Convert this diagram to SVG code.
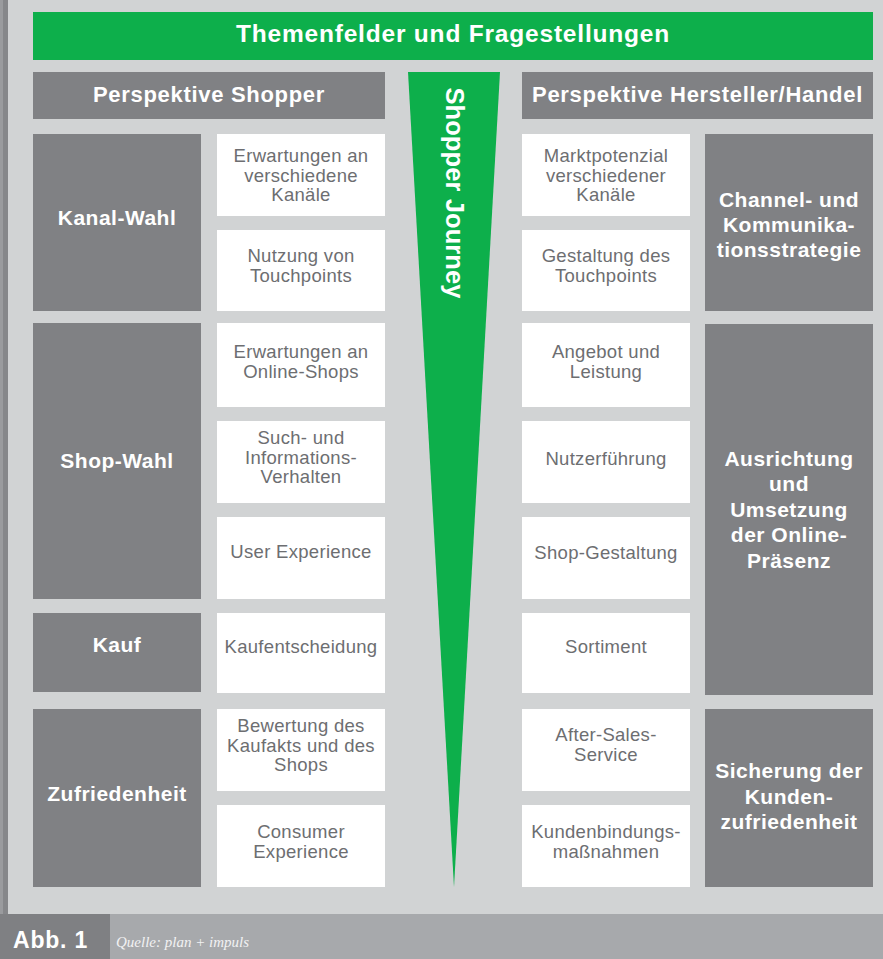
<svg xmlns="http://www.w3.org/2000/svg" width="883" height="959" viewBox="0 0 883 959">
  <defs>
    <style>
      .bg { fill: #d1d3d4; }
      .dark { fill: #808184; }
      .card { fill: #ffffff; }
      .green { fill: #0daf4b; }
      .title { font-family: "Liberation Sans", Arial, sans-serif; font-weight: bold; fill: #ffffff; text-anchor: middle; }
      .h1 { font-size: 24.5px; letter-spacing: 0.8px; }
      .h2 { font-size: 22px; letter-spacing: 0.7px; }
      .lbl { font-family: "Liberation Sans", Arial, sans-serif; font-weight: bold; font-size: 21px; letter-spacing: 0.5px; fill: #ffffff; text-anchor: middle; }
      .txt { font-family: "Liberation Sans", Arial, sans-serif; font-size: 18.5px; letter-spacing: 0.3px; fill: #6d6e71; text-anchor: middle; }
      .journey { font-family: "Liberation Sans", Arial, sans-serif; font-weight: bold; font-size: 25.5px; letter-spacing: 0.1px; fill: #ffffff; text-anchor: middle; }
      .abb { font-family: "Liberation Sans", Arial, sans-serif; font-weight: bold; font-size: 23px; letter-spacing: 0.8px; fill: #ffffff; }
      .src { font-family: "Liberation Serif", "Times New Roman", serif; font-style: italic; font-size: 15px; fill: #f2f2f3; }
    </style>
  </defs>

  <!-- page background and frame -->
  <rect class="bg" x="0" y="0" width="883" height="914"/>
  <rect x="0" y="0" width="3" height="914" fill="#9a9b9e"/>
  <rect x="3" y="0" width="5" height="914" fill="#86878a"/>

  <!-- title bar -->
  <g id="title">
    <rect class="green" x="33" y="12" width="840" height="48"/>
    <text class="title h1" x="453" y="41.5">Themenfelder und Fragestellungen</text>
  </g>

  <!-- column headers -->
  <g id="head-shopper">
    <rect class="dark" x="33" y="72" width="352" height="47"/>
    <text class="title h2" x="209" y="102">Perspektive Shopper</text>
  </g>
  <g id="head-hersteller">
    <rect class="dark" x="522" y="72" width="351" height="47"/>
    <text class="title h2" x="697.5" y="102">Perspektive Hersteller/Handel</text>
  </g>

  <!-- central wedge -->
  <g id="shopper-journey">
    <polygon class="green" points="408,72 500,72 454,887"/>
    <text class="journey" transform="translate(446,193) rotate(90)">Shopper Journey</text>
  </g>

  <!-- shopper phases (left) -->
  <g id="kanal-wahl">
    <rect class="dark" x="33" y="134" width="168" height="177"/>
    <text class="lbl" x="117" y="225">Kanal-Wahl</text>
  </g>
  <g id="shop-wahl">
    <rect class="dark" x="33" y="323" width="168" height="276"/>
    <text class="lbl" x="117" y="468">Shop-Wahl</text>
  </g>
  <g id="kauf">
    <rect class="dark" x="33" y="613" width="168" height="79"/>
    <text class="lbl" x="117" y="652">Kauf</text>
  </g>
  <g id="zufriedenheit">
    <rect class="dark" x="33" y="709" width="168" height="178"/>
    <text class="lbl" x="117" y="801">Zufriedenheit</text>
  </g>

  <!-- shopper topics -->
  <g id="s-erwartungen-kanaele">
    <rect class="card" x="217" y="134" width="168" height="82"/>
    <text class="txt" x="301" y="162">Erwartungen an</text>
    <text class="txt" x="301" y="181.5">verschiedene</text>
    <text class="txt" x="301" y="201">Kanäle</text>
  </g>
  <g id="s-nutzung-touchpoints">
    <rect class="card" x="217" y="230" width="168" height="81"/>
    <text class="txt" x="301" y="262">Nutzung von</text>
    <text class="txt" x="301" y="281.5">Touchpoints</text>
  </g>
  <g id="s-erwartungen-shops">
    <rect class="card" x="217" y="323" width="168" height="84"/>
    <text class="txt" x="301" y="358">Erwartungen an</text>
    <text class="txt" x="301" y="377.5">Online-Shops</text>
  </g>
  <g id="s-suchverhalten">
    <rect class="card" x="217" y="421" width="168" height="82"/>
    <text class="txt" x="301" y="444">Such- und</text>
    <text class="txt" x="301" y="463.5">Informations-</text>
    <text class="txt" x="301" y="483">Verhalten</text>
  </g>
  <g id="s-user-experience">
    <rect class="card" x="217" y="517" width="168" height="82"/>
    <text class="txt" x="301" y="558">User Experience</text>
  </g>
  <g id="s-kaufentscheidung">
    <rect class="card" x="217" y="613" width="168" height="80"/>
    <text class="txt" x="301" y="653">Kaufentscheidung</text>
  </g>
  <g id="s-bewertung">
    <rect class="card" x="217" y="709" width="168" height="82"/>
    <text class="txt" x="301" y="732">Bewertung des</text>
    <text class="txt" x="301" y="751.5">Kaufakts und des</text>
    <text class="txt" x="301" y="771">Shops</text>
  </g>
  <g id="s-consumer-experience">
    <rect class="card" x="217" y="805" width="168" height="82"/>
    <text class="txt" x="301" y="838">Consumer</text>
    <text class="txt" x="301" y="857.5">Experience</text>
  </g>

  <!-- manufacturer / retailer topics -->
  <g id="h-marktpotenzial">
    <rect class="card" x="522" y="134" width="168" height="82"/>
    <text class="txt" x="606" y="162">Marktpotenzial</text>
    <text class="txt" x="606" y="181.5">verschiedener</text>
    <text class="txt" x="606" y="201">Kanäle</text>
  </g>
  <g id="h-gestaltung-touchpoints">
    <rect class="card" x="522" y="230" width="168" height="81"/>
    <text class="txt" x="606" y="262">Gestaltung des</text>
    <text class="txt" x="606" y="281.5">Touchpoints</text>
  </g>
  <g id="h-angebot">
    <rect class="card" x="522" y="323" width="168" height="84"/>
    <text class="txt" x="606" y="358">Angebot und</text>
    <text class="txt" x="606" y="377.5">Leistung</text>
  </g>
  <g id="h-nutzerfuehrung">
    <rect class="card" x="522" y="421" width="168" height="82"/>
    <text class="txt" x="606" y="465">Nutzerführung</text>
  </g>
  <g id="h-shop-gestaltung">
    <rect class="card" x="522" y="517" width="168" height="82"/>
    <text class="txt" x="606" y="559">Shop-Gestaltung</text>
  </g>
  <g id="h-sortiment">
    <rect class="card" x="522" y="613" width="168" height="80"/>
    <text class="txt" x="606" y="653">Sortiment</text>
  </g>
  <g id="h-after-sales">
    <rect class="card" x="522" y="709" width="168" height="82"/>
    <text class="txt" x="606" y="741">After-Sales-</text>
    <text class="txt" x="606" y="760.5">Service</text>
  </g>
  <g id="h-kundenbindung">
    <rect class="card" x="522" y="805" width="168" height="82"/>
    <text class="txt" x="606" y="838">Kundenbindungs-</text>
    <text class="txt" x="606" y="857.5">maßnahmen</text>
  </g>

  <!-- manufacturer / retailer fields (right) -->
  <g id="channel-strategie">
    <rect class="dark" x="705" y="134" width="168" height="177"/>
    <text class="lbl" x="789" y="207">Channel- und</text>
    <text class="lbl" x="789" y="232">Kommunika-</text>
    <text class="lbl" x="789" y="257">tionsstrategie</text>
  </g>
  <g id="online-praesenz">
    <rect class="dark" x="705" y="324" width="168" height="371"/>
    <text class="lbl" x="789" y="465.5">Ausrichtung</text>
    <text class="lbl" x="789" y="491">und</text>
    <text class="lbl" x="789" y="516.5">Umsetzung</text>
    <text class="lbl" x="789" y="542">der Online-</text>
    <text class="lbl" x="789" y="567.5">Präsenz</text>
  </g>
  <g id="kundenzufriedenheit">
    <rect class="dark" x="705" y="709" width="168" height="178"/>
    <text class="lbl" x="789" y="778">Sicherung der</text>
    <text class="lbl" x="789" y="804">Kunden-</text>
    <text class="lbl" x="789" y="829">zufriedenheit</text>
  </g>

  <!-- caption strip -->
  <g id="caption">
    <rect x="0" y="914" width="883" height="45" fill="#a7a9ac"/>
    <rect x="0" y="914" width="110" height="45" fill="#7f8083"/>
    <text class="abb" x="13" y="948">Abb. 1</text>
    <text class="src" x="116" y="947">Quelle: plan + impuls</text>
  </g>
</svg>
